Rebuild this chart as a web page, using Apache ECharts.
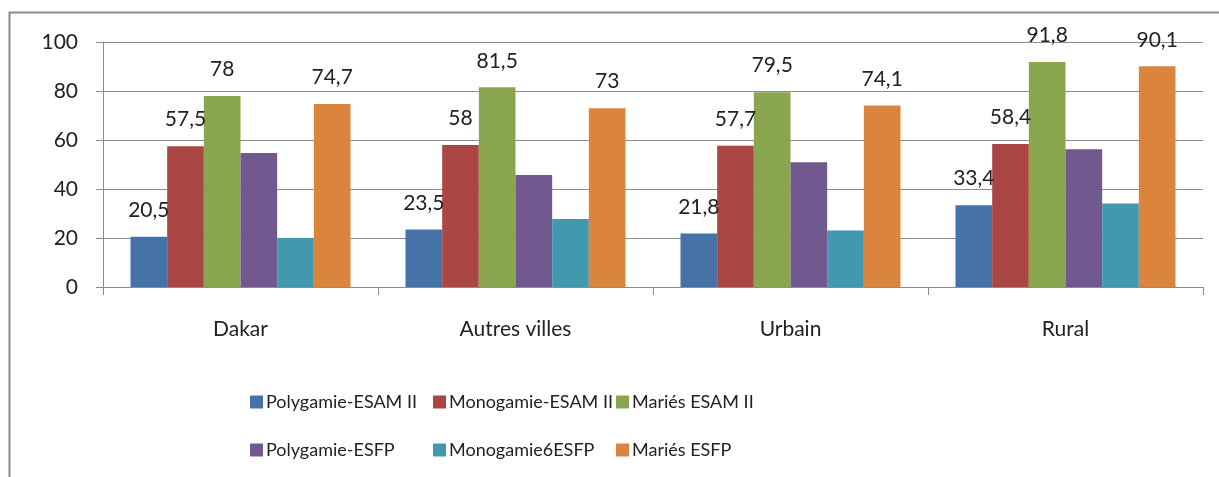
<!DOCTYPE html>
<html>
<head>
  <meta charset='utf-8'>
  <script src="https://cdn.jsdelivr.net/npm/echarts@6/dist/echarts.min.js"></script>
  <title>Mariés ESAM II / ESFP</title>
  <style>
    html, body { margin: 0; padding: 0; background: #fff; }
  </style>
</head>
<body>
<div id="main" style="width: 1219px;height:477px;"></div>
<script type="text/javascript">
  var categories = ['Dakar', 'Autres villes', 'Urbain', 'Rural'];
  var seriesNames = ['Polygamie-ESAM II', 'Monogamie-ESAM II', 'Mariés ESAM II',
    'Polygamie-ESFP', 'Monogamie6ESFP', 'Mariés ESFP'];
  var polyEsam = [20.5, 23.5, 21.8, 33.4];
  var monoEsam = [57.5, 58, 57.7, 58.4];
  var marEsam = [78, 81.5, 79.5, 91.8];
  var polyEsfp = [54.7, 45.7, 50.9, 56.2];
  var monoEsfp = [20.0, 27.8, 23.1, 34.1];
  var marEsfp = [74.7, 73, 74.1, 90.1];
  var yTicks = [0, 20, 40, 60, 80, 100];

  var colors = ['#4572A7', '#AA4643', '#89A54E', '#71588F', '#4198AF', '#DB843D'];
  var values = [polyEsam, monoEsam, marEsam, polyEsfp, monoEsfp, marEsfp];
  var showLabel = [true, true, true, false, false, true]; // pas d'étiquettes sur ESFP poly/mono
  var font = 'Lato';

  var myChart = echarts.init(document.getElementById('main'));

  var series = seriesNames.map(function (name, i) {
    return {
      name: name,
      type: 'bar',
      barGap: '0%',
      barCategoryGap: '20%',
      itemStyle: { color: colors[i] },
      label: {
        show: showLabel[i],
        position: 'top',
        distance: 16,
        fontFamily: font,
        fontSize: 21,
        color: '#222',
        formatter: function (p) { return String(p.value).replace('.', ','); }
      },
      data: values[i]
    };
  });

  // légende en 3 colonnes de 2 lignes
  var legends = [0, 1, 2].map(function (c) {
    return {
      orient: 'vertical',
      left: 245 + c * 183,
      top: 388,
      itemWidth: 13,
      itemHeight: 13,
      itemGap: 30,
      icon: 'rect',
      textStyle: { fontFamily: font, fontSize: 18, color: '#222', padding: [0, 0, 0, -2] },
      data: [seriesNames[c], seriesNames[c + 3]]
    };
  });

  var option = {
    animation: false,
    backgroundColor: '#fff',
    graphic: [{
      type: 'rect',
      shape: { x: 9.5, y: 12.5, width: 1300, height: 600 },
      style: { fill: 'none', stroke: '#8c8c8c', lineWidth: 2 },
      silent: true
    }],
    legend: legends,
    grid: { left: 103, right: 16, top: 42, bottom: 190 },
    xAxis: {
      type: 'category',
      data: categories,
      axisLine: { lineStyle: { color: '#8c8c8c' } },
      axisTick: { show: true, length: 8, lineStyle: { color: '#8c8c8c' } },
      axisLabel: { fontFamily: font, fontSize: 21, color: '#222', margin: 32 }
    },
    yAxis: {
      type: 'value',
      min: yTicks[0],
      max: yTicks[yTicks.length - 1],
      interval: 20,
      axisLine: { show: true, lineStyle: { color: '#8c8c8c' } },
      axisTick: { show: true, length: 7, lineStyle: { color: '#8c8c8c' } },
      axisLabel: { fontFamily: font, fontSize: 21, color: '#222', margin: 25 },
      splitLine: { lineStyle: { color: '#8c8c8c' } }
    },
    series: series
  };

  myChart.setOption(option);
</script>
</body>
</html>
